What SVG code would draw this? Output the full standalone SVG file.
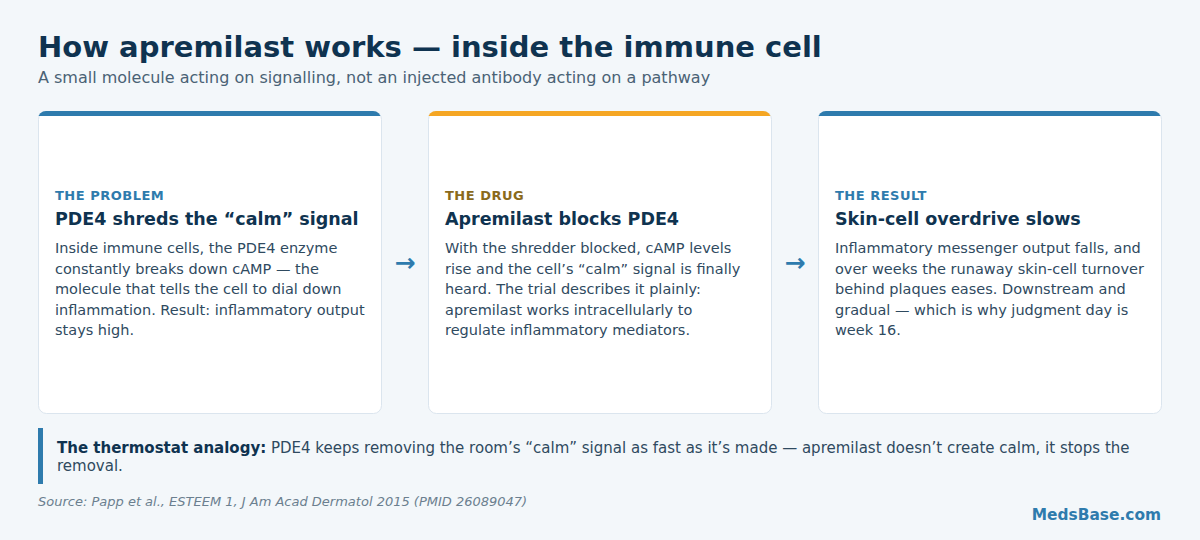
<svg xmlns="http://www.w3.org/2000/svg" width="1200" height="540" viewBox="0 0 1200 540">
<style>
text{font-family:"DejaVu Sans",sans-serif}
.title{font-size:29px;font-weight:bold;fill:#0f3350}
.sub{font-size:16px;fill:#4a6275}
.card{fill:#ffffff;stroke:#dbe5ee;stroke-width:1}
.lab{font-size:13px;font-weight:bold;letter-spacing:0.5px}
.head{font-size:17.5px;font-weight:bold;fill:#0f3350}
.body{font-size:14.5px;fill:#2f4a5f}
.arrow{font-size:25px;font-weight:bold;fill:#2e7bad}
.call{font-size:15px;fill:#2f4a5f}
.src{font-size:13px;font-style:italic;fill:#6b7f8f}
.brand{font-size:15.4px;font-weight:bold;fill:#2e7bad}
</style>
<defs>
<clipPath id="c1"><rect x="38" y="111" width="343" height="302" rx="8"/></clipPath>
<clipPath id="c2"><rect x="428" y="111" width="343" height="302" rx="8"/></clipPath>
<clipPath id="c3"><rect x="818" y="111" width="343" height="302" rx="8"/></clipPath>
</defs>
<rect width="1200" height="540" fill="#f3f7fa"/>
<text class="title" x="38" y="57">How apremilast works — inside the immune cell</text>
<text class="sub" x="38" y="83">A small molecule acting on signalling, not an injected antibody acting on a pathway</text>

<g id="card-problem">
<rect class="card" x="38.5" y="111.5" width="343" height="302" rx="8"/>
<rect x="38" y="111" width="344" height="5" fill="#2e7bad" clip-path="url(#c1)"/>
<text class="lab" x="55" y="200" fill="#2e7bad">THE PROBLEM</text>
<text class="head" x="55" y="225">PDE4 shreds the “calm” signal</text>
<text class="body" x="55" y="253">Inside immune cells, the PDE4 enzyme</text>
<text class="body" x="55" y="274">constantly breaks down cAMP — the</text>
<text class="body" x="55" y="294">molecule that tells the cell to dial down</text>
<text class="body" x="55" y="315">inflammation. Result: inflammatory output</text>
<text class="body" x="55" y="335">stays high.</text>
</g>

<g id="card-drug">
<rect class="card" x="428.5" y="111.5" width="343" height="302" rx="8"/>
<rect x="428" y="111" width="344" height="5" fill="#f5a623" clip-path="url(#c2)"/>
<text class="lab" x="445" y="200" fill="#8a6a1c">THE DRUG</text>
<text class="head" x="445" y="225">Apremilast blocks PDE4</text>
<text class="body" x="445" y="253">With the shredder blocked, cAMP levels</text>
<text class="body" x="445" y="274">rise and the cell’s “calm” signal is finally</text>
<text class="body" x="445" y="294">heard. The trial describes it plainly:</text>
<text class="body" x="445" y="315">apremilast works intracellularly to</text>
<text class="body" x="445" y="335">regulate inflammatory mediators.</text>
</g>

<g id="card-result">
<rect class="card" x="818.5" y="111.5" width="343" height="302" rx="8"/>
<rect x="818" y="111" width="344" height="5" fill="#2e7bad" clip-path="url(#c3)"/>
<text class="lab" x="835" y="200" fill="#2e7bad">THE RESULT</text>
<text class="head" x="835" y="225">Skin-cell overdrive slows</text>
<text class="body" x="835" y="253">Inflammatory messenger output falls, and</text>
<text class="body" x="835" y="274">over weeks the runaway skin-cell turnover</text>
<text class="body" x="835" y="294">behind plaques eases. Downstream and</text>
<text class="body" x="835" y="315">gradual — which is why judgment day is</text>
<text class="body" x="835" y="335">week 16.</text>
</g>

<g id="connectors">
<text class="arrow" x="405" y="271" text-anchor="middle">→</text>
<text class="arrow" x="795" y="271" text-anchor="middle">→</text>
</g>

<g id="callout">
<rect x="38" y="428" width="5" height="56" fill="#2e7bad"/>
<text class="call" x="57" y="453"><tspan font-weight="bold" fill="#0f3350">The thermostat analogy:</tspan> PDE4 keeps removing the room’s “calm” signal as fast as it’s made — apremilast doesn’t create calm, it stops the</text>
<text class="call" x="57" y="471">removal.</text>
</g>

<text class="src" x="38" y="506">Source: Papp et al., ESTEEM 1, J Am Acad Dermatol 2015 (PMID 26089047)</text>
<text class="brand" x="1161" y="520" text-anchor="end">MedsBase.com</text>
</svg>
